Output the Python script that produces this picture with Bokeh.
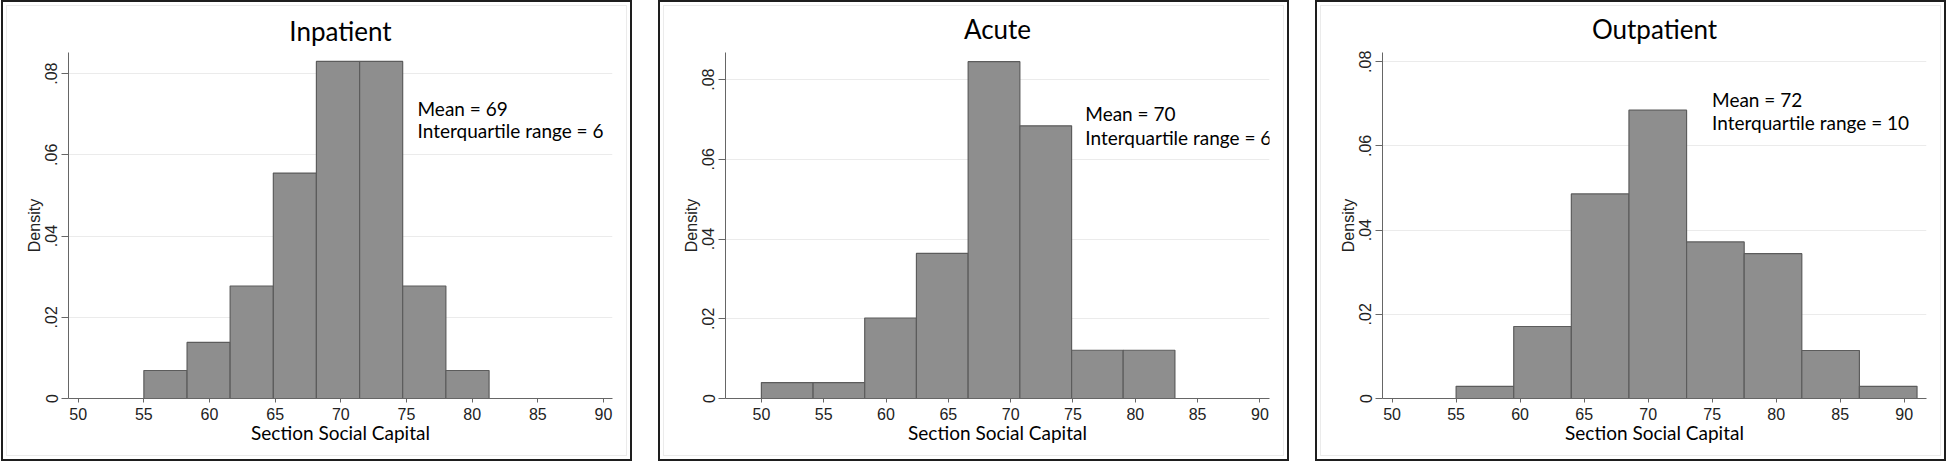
import numpy as np
from bokeh.plotting import figure
from bokeh.layouts import row
from bokeh.models import FixedTicker, CustomJSTickFormatter, Range1d, ColumnDataSource, Label
from bokeh.embed import file_html
from bokeh.resources import INLINE

# ---------------- data ----------------
titles = ["Inpatient", "Acute", "Outpatient"]

inp_edges = [55.0, 58.29, 61.57, 64.86, 68.14, 71.43, 74.71, 78.0, 81.29]
inp_density = [0.0069, 0.0138, 0.0277, 0.0555, 0.0830, 0.0830, 0.0277, 0.0069]

acu_edges = [50.0, 54.15, 58.29, 62.44, 66.59, 70.74, 74.89, 79.03, 83.18]
acu_density = [0.0040, 0.0040, 0.0202, 0.0364, 0.0845, 0.0684, 0.0121, 0.0121]

out_edges = [55.0, 59.5, 64.0, 68.5, 73.0, 77.5, 82.0, 86.5, 91.0]
out_density = [0.0029, 0.0171, 0.0486, 0.0685, 0.0372, 0.0344, 0.0114, 0.0029]

means = [69, 70, 72]
iqrs = [6, 6, 10]

x_ticks = [50, 55, 60, 65, 70, 75, 80, 85, 90]
y_ticks = [0, 0.02, 0.04, 0.06, 0.08]

x_label = "Section Social Capital"
y_label = "Density"

# ---------------- layout / style ----------------
x_ranges = [(49.26, 90.69), (47.12, 90.77), (49.25, 91.74)]
y_ranges = [(0, 0.0852), (0, 0.0868), (0, 0.0822)]
title_offsets = [-6, -36, -42]
title_standoffs = [12, 15, 16]
ann_x = [75.84, 75.99, 74.99]
ann_y1 = [0.0714, 0.0714, 0.0711]
ann_y2 = [0.0659, 0.0655, 0.0655]

edges_all = [inp_edges, acu_edges, out_edges]
dens_all = [inp_density, acu_density, out_density]

TITLE_FONT = "Lato"
TICK_FONT = "Liberation Sans"

panels = []
for i in range(3):
    e = edges_all[i]
    d = dens_all[i]
    p = figure(
        width=627, height=457,
        x_range=Range1d(*x_ranges[i]), y_range=Range1d(*y_ranges[i]),
        output_backend="svg", toolbar_location=None,
        min_border_left=65, min_border_right=22,
        min_border_top=47, min_border_bottom=65,
        border_fill_color=None, background_fill_color=None,
        outline_line_color=None,
        styles={
            "box-sizing": "content-box",
            "border": "2px solid #1e1e1e",
            "background-color": "white",
            "box-shadow": "inset 0 0 0 3px white, inset 0 0 0 4px #ebebeb",
        },
    )
    src = ColumnDataSource(dict(left=e[:-1], right=e[1:], top=d, bottom=[0] * len(d)))
    p.quad(left="left", right="right", top="top", bottom="bottom", source=src,
           fill_color="#8e8e8e", line_color="#5c5c5c", line_width=1.2)

    for yy, txt in [(ann_y1[i], f"Mean = {means[i]}"),
                    (ann_y2[i], f"Interquartile range = {iqrs[i]}")]:
        p.add_layout(Label(x=ann_x[i], y=yy, text=txt,
                           text_font=TITLE_FONT, text_font_size="19px",
                           text_color="black", text_baseline="alphabetic",
                           text_align="left"))

    p.title.text = titles[i]
    p.title.align = "center"
    p.title.offset = title_offsets[i]
    p.title.standoff = title_standoffs[i]
    p.title.text_font = TITLE_FONT
    p.title.text_font_size = "26px"
    p.title.text_font_style = "normal"
    p.title.text_color = "black"

    p.xgrid.visible = False
    p.ygrid.grid_line_color = "#ebebeb"
    p.ygrid.grid_line_width = 1
    p.ygrid.ticker = FixedTicker(ticks=y_ticks)

    xa = p.xaxis[0]
    xa.ticker = FixedTicker(ticks=x_ticks)
    xa.axis_label = x_label
    xa.axis_label_text_font = TITLE_FONT
    xa.axis_label_text_font_size = "19px"
    xa.axis_label_text_font_style = "normal"
    xa.axis_label_text_color = "black"
    xa.axis_label_standoff = -2
    xa.major_label_text_font = TICK_FONT
    xa.major_label_text_font_size = "16px"
    xa.major_label_text_color = "#222222"
    xa.major_label_standoff = 5
    xa.major_tick_out = 4
    xa.major_tick_in = 0
    xa.minor_tick_out = 0
    xa.minor_tick_in = 0
    xa.axis_line_color = "#666666"
    xa.major_tick_line_color = "#666666"

    ya = p.yaxis[0]
    ya.ticker = FixedTicker(ticks=y_ticks)
    ya.formatter = CustomJSTickFormatter(
        code='if (tick == 0) { return "0"; } return tick.toFixed(2).replace(/^0/, "");')
    ya.axis_label = y_label
    ya.axis_label_text_font = TICK_FONT
    ya.axis_label_text_font_size = "16px"
    ya.axis_label_text_font_style = "normal"
    ya.axis_label_text_color = "#222222"
    ya.axis_label_standoff = 0
    ya.major_label_orientation = "vertical"
    ya.major_label_text_font = TICK_FONT
    ya.major_label_text_font_size = "16px"
    ya.major_label_text_color = "#222222"
    ya.major_label_standoff = 4
    ya.major_tick_out = 7
    ya.major_tick_in = 0
    ya.minor_tick_out = 0
    ya.minor_tick_in = 0
    ya.axis_line_color = "#666666"
    ya.major_tick_line_color = "#666666"

    panels.append(p)

layout = row(*panels, spacing=26, styles={"margin-left": "1px"})

open("out.html", "w").write(file_html(layout, INLINE))
